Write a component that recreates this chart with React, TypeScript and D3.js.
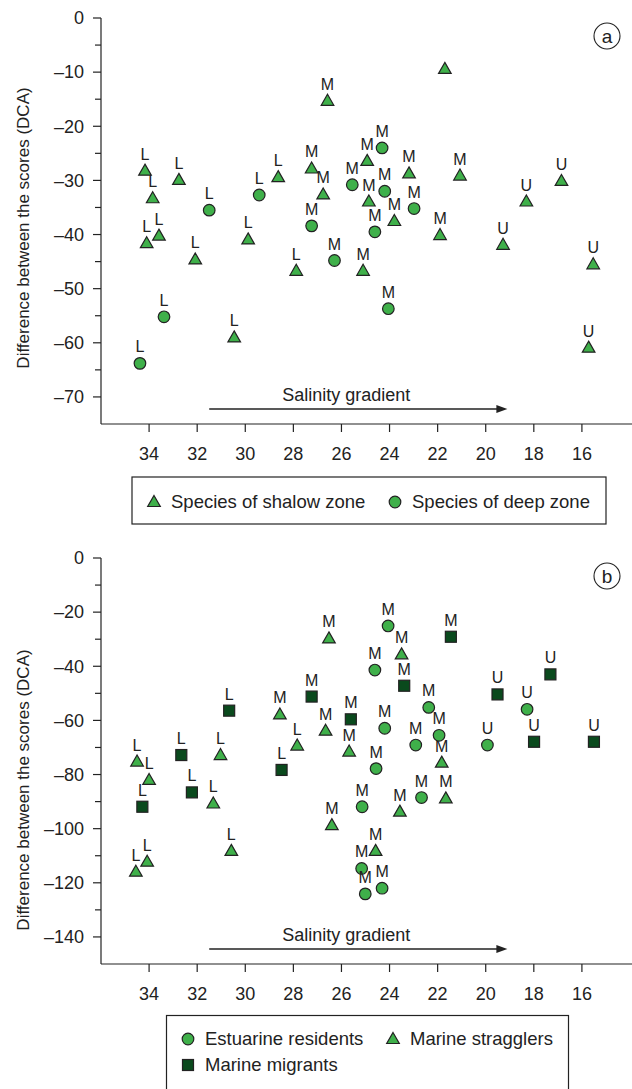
import React from "react";
import * as d3 from "d3";

// [salinity, DCA difference, zone label]
const shallowZone: [number, number, string][] = [
  [34.17, -28.2, "L"], [33.85, -33.3, "L"], [32.76, -29.9, "L"], [28.63, -29.4, "L"],
  [27.24, -27.8, "M"], [34.1, -41.6, "L"], [33.59, -40.2, "L"], [29.88, -40.9, "L"],
  [21.7, -9.4, ""], [26.58, -15.3, "M"], [24.93, -26.4, "M"], [26.76, -32.6, "M"],
  [23.19, -28.7, "M"], [21.07, -29.1, "M"], [24.86, -33.9, "M"], [23.8, -37.5, "M"],
  [21.9, -40.1, "M"], [16.85, -30.1, "U"], [18.31, -33.9, "U"], [19.28, -41.9, "U"],
  [32.08, -44.6, "L"], [27.88, -46.7, "L"], [25.1, -46.7, "M"], [15.53, -45.5, "U"],
  [30.46, -59.0, "L"], [15.72, -60.9, "U"],
];
const deepZone: [number, number, string][] = [
  [31.5, -35.5, "L"], [29.42, -32.7, "L"], [27.24, -38.4, "M"], [24.31, -24.0, "M"],
  [25.55, -30.8, "M"], [24.2, -32.0, "M"], [22.98, -35.2, "M"], [24.61, -39.5, "M"],
  [26.29, -44.8, "M"], [33.38, -55.2, "L"], [24.05, -53.7, "M"], [34.38, -63.8, "L"],
];

const estuarineResidents: [number, number, string][] = [
  [24.06, -25.1, "M"], [24.61, -41.4, "M"], [22.37, -55.2, "M"], [24.2, -62.9, "M"],
  [22.91, -69.1, "M"], [21.94, -65.5, "M"], [24.56, -77.8, "M"], [18.28, -55.9, "U"],
  [19.93, -69.1, "U"], [22.67, -88.5, "M"], [25.14, -91.9, "M"], [25.16, -114.7, "M"],
  [25.01, -124.1, "M"], [24.31, -122.0, "M"],
];
const marineStragglers: [number, number, string][] = [
  [34.5, -75.2, "L"], [34.0, -82.0, "L"], [31.03, -72.8, "L"], [31.33, -90.7, "L"],
  [28.56, -57.8, "M"], [27.84, -69.3, "L"], [26.52, -29.7, "M"], [23.5, -35.6, "M"],
  [26.66, -63.8, "M"], [25.68, -71.5, "M"], [21.83, -75.6, "M"], [21.66, -88.8, "M"],
  [23.57, -93.7, "M"], [26.4, -98.7, "M"], [24.58, -108.2, "M"], [30.58, -108.2, "L"],
  [34.55, -115.9, "L"], [34.08, -112.2, "L"],
];
const marineMigrants: [number, number, string][] = [
  [34.28, -91.9, "L"], [32.66, -72.8, "L"], [32.22, -86.6, "L"], [30.67, -56.4, "L"],
  [28.49, -78.3, "L"], [27.24, -51.2, "M"], [21.45, -29.1, "M"], [23.39, -47.2, "M"],
  [25.61, -59.6, "M"], [19.51, -50.4, "U"], [17.31, -43.0, "U"], [17.99, -67.9, "U"],
  [15.5, -67.9, "U"],
];

const salinityTicks = [34, 32, 30, 28, 26, 24, 22, 20, 18, 16];
const topTicks = [0, -10, -20, -30, -40, -50, -60, -70];
const bottomTicks = [0, -20, -40, -60, -80, -100, -120, -140];

const FONT = "'Liberation Sans', Arial, sans-serif";
const LIGHT = "#3fb04a";
const DARK = "#0a4a1d";
const INK = "#222";

const x = d3.scaleLinear().domain([36, 14]).range([101, 630]);

type Shape = "triangle" | "circle" | "square";

function Marker({ shape, cx, cy }: { shape: Shape; cx: number; cy: number }) {
  if (shape === "circle")
    return <circle cx={cx} cy={cy} r={5.8} fill={LIGHT} stroke={INK} strokeWidth={1.2} />;
  if (shape === "square")
    return <rect x={cx - 5.5} y={cy - 5.5} width={11} height={11} fill={DARK} stroke={INK} strokeWidth={1.2} />;
  const p = d3.path();
  p.moveTo(cx, cy - 6.5);
  p.lineTo(cx + 6.3, cy + 4.5);
  p.lineTo(cx - 6.3, cy + 4.5);
  p.closePath();
  return <path d={p.toString()} fill={LIGHT} stroke={INK} strokeWidth={1.2} strokeLinejoin="miter" />;
}

function fmt(v: number) {
  return v < 0 ? "–" + Math.abs(v) : String(v);
}

function Panel({
  y, ticks, minor, series, tag, titleY,
}: {
  y: d3.ScaleLinear<number, number>;
  ticks: number[];
  minor: number[];
  series: { data: [number, number, string][]; shape: Shape }[];
  tag: string;
  titleY: number;
}) {
  const [y0, y1] = y.range();
  const arrowY = y(ticks[ticks.length - 1]) + 12;
  return (
    <g>
      <line x1={101} x2={101} y1={y0} y2={y1} stroke={INK} strokeWidth={1.2} />
      <line x1={101} x2={632} y1={y1} y2={y1} stroke={INK} strokeWidth={1.2} />
      {minor.map((t) => (
        <line key={"m" + t} x1={95} x2={101} y1={y(t)} y2={y(t)} stroke={INK} strokeWidth={1.2} />
      ))}
      {ticks.map((t) => (
        <g key={t}>
          <line x1={93} x2={101} y1={y(t)} y2={y(t)} stroke={INK} strokeWidth={1.2} />
          <text x={84} y={y(t)} dy="0.35em" textAnchor="end" fontSize={18} fontFamily={FONT} fill={INK}>
            {fmt(t)}
          </text>
        </g>
      ))}
      {salinityTicks.map((t) => (
        <g key={"x" + t}>
          <line x1={x(t)} x2={x(t)} y1={y1} y2={y1 + 8} stroke={INK} strokeWidth={1.2} />
          <text x={x(t)} y={y1 + 36} textAnchor="middle" fontSize={18} fontFamily={FONT} fill={INK}>
            {t}
          </text>
        </g>
      ))}
      <text
        transform={`translate(29,${titleY}) rotate(-90)`}
        textAnchor="middle"
        fontSize={17}
        fontFamily={FONT}
        fill={INK}
      >
        Difference between the scores (DCA)
      </text>
      <text x={x(25.8)} y={arrowY - 8} textAnchor="middle" fontSize={18} fontFamily={FONT} fill={INK}>
        Salinity gradient
      </text>
      <line x1={x(31.5)} x2={x(19.4)} y1={arrowY} y2={arrowY} stroke={INK} strokeWidth={1.4} />
      <path
        d={`M${x(19.1)},${arrowY} l-11,-4 l0,8 z`}
        fill={INK}
      />
      <circle cx={607} cy={y0 + 18} r={13} fill="none" stroke={INK} strokeWidth={1.1} />
      <text x={607} y={y0 + 18} dy="0.35em" textAnchor="middle" fontSize={19} fontFamily={FONT} fill={INK}>
        {tag}
      </text>
      {series.map((s) =>
        s.data.map(([sx, sy, lab], i) => (
          <g key={s.shape + i}>
            <Marker shape={s.shape} cx={x(sx)} cy={y(sy)} />
            {lab && (
              <text x={x(sx)} y={y(sy) - 11} textAnchor="middle" fontSize={16} fontFamily={FONT} fill={INK}>
                {lab}
              </text>
            )}
          </g>
        ))
      )}
    </g>
  );
}

export default function App() {
  const yTop = d3.scaleLinear().domain([0, -75]).range([18, 424]);
  const yBottom = d3.scaleLinear().domain([0, -150]).range([558, 964]);
  const topMinor = d3.range(-5, -75, -10);
  const bottomMinor = d3.range(-10, -150, -20);
  return (
    <svg
      width={632}
      height={1089}
      style={{ position: "absolute", left: 0, top: 0, background: "#fff" }}
    >
      <rect width={632} height={1089} fill="#fff" />
      <Panel
        y={yTop}
        ticks={topTicks}
        minor={topMinor}
        series={[
          { data: shallowZone, shape: "triangle" },
          { data: deepZone, shape: "circle" },
        ]}
        tag="a"
        titleY={228}
      />
      <Panel
        y={yBottom}
        ticks={bottomTicks}
        minor={bottomMinor}
        series={[
          { data: marineStragglers, shape: "triangle" },
          { data: estuarineResidents, shape: "circle" },
          { data: marineMigrants, shape: "square" },
        ]}
        tag="b"
        titleY={790}
      />
      {/* legend a */}
      <rect x={132} y={477} width={474} height={47} fill="#fff" stroke={INK} strokeWidth={1.2} />
      <Marker shape="triangle" cx={154} cy={502} />
      <text x={171} y={502} dy="0.35em" fontSize={18.5} fontFamily={FONT} fill={INK}>
        Species of shalow zone
      </text>
      <Marker shape="circle" cx={395} cy={502} />
      <text x={412} y={502} dy="0.35em" fontSize={18.5} fontFamily={FONT} fill={INK}>
        Species of deep zone
      </text>
      {/* legend b */}
      <rect x={166.5} y={1015.5} width={402} height={90} fill="#fff" stroke={INK} strokeWidth={1.2} />
      <Marker shape="circle" cx={188} cy={1039} />
      <text x={205} y={1039} dy="0.35em" fontSize={18.5} fontFamily={FONT} fill={INK}>
        Estuarine residents
      </text>
      <Marker shape="triangle" cx={393} cy={1039} />
      <text x={410} y={1039} dy="0.35em" fontSize={18.5} fontFamily={FONT} fill={INK}>
        Marine stragglers
      </text>
      <Marker shape="square" cx={188} cy={1065} />
      <text x={205} y={1065} dy="0.35em" fontSize={18.5} fontFamily={FONT} fill={INK}>
        Marine migrants
      </text>
    </svg>
  );
}
